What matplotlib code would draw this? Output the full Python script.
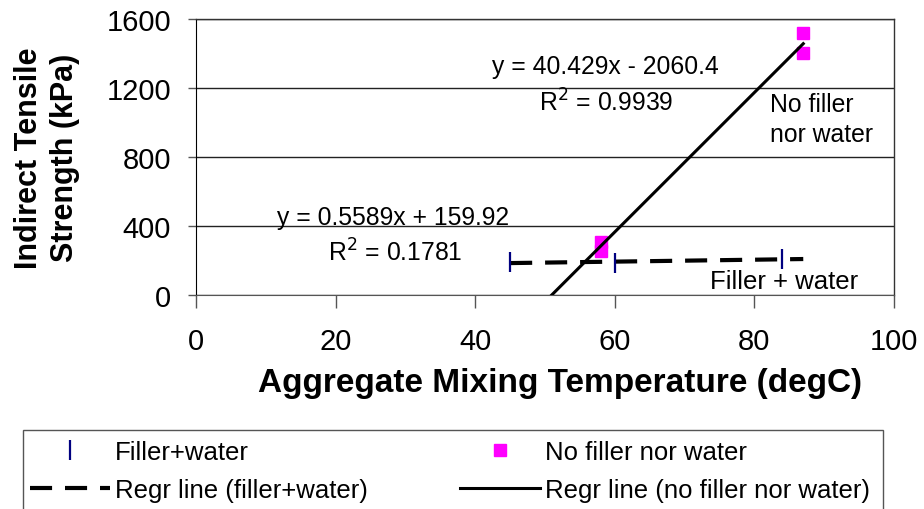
import matplotlib
matplotlib.use("Agg")
import matplotlib.pyplot as plt
from matplotlib.patches import Rectangle
import numpy as np

plt.rcParams['font.family'] = ['Liberation Sans', 'DejaVu Sans']

# Data
filler_x = [45, 60, 84]
filler_y = [190, 188, 209]
nofill_x = [58, 58, 87, 87]
nofill_y = [305, 255, 1519, 1402]
regr_x = [45, 87]
fill_coef = (0.5589, 159.92)
nofill_coef = (40.429, -2060.4)
xticks = [0, 20, 40, 60, 80, 100]
yticks = [0, 400, 800, 1200, 1600]

W, H = 924, 510
fig = plt.figure(figsize=(W / 100, H / 100), dpi=100)
ax = fig.add_axes([196 / W, 1 - 296 / H, (894 - 196) / W, (296 - 20) / H])

rx = np.array(regr_x, dtype=float)
l_fill, = ax.plot(rx, fill_coef[0] * rx + fill_coef[1], color='black', lw=3,
                  linestyle=(0, (5.3, 3.1)), label='Regr line (filler+water)', zorder=3)
l_nofill, = ax.plot(rx, nofill_coef[0] * rx + nofill_coef[1], color='black', lw=2.2,
                    label='Regr line (no filler nor water)', zorder=3)
m_fill, = ax.plot(filler_x, filler_y, linestyle='none', marker='|', markersize=14.5,
                  markeredgewidth=1.6, color='#000080', label='Filler+water', zorder=4)
m_nofill, = ax.plot(nofill_x, nofill_y, linestyle='none', marker='s', markersize=8.6,
                    color='#FF00FF', markeredgecolor='#FF00FF', label='No filler nor water', zorder=2)

ax.set_xlim(0, 100)
ax.set_ylim(0, 1600)
ax.set_xticks(xticks)
ax.set_yticks(yticks)
ax.tick_params(axis='both', labelsize=21, direction='out', color='#555555')
ax.tick_params(axis='x', length=9, width=1, pad=14)
ax.tick_params(axis='y', length=6, width=1, pad=12)
ax.yaxis.grid(True, color='#222222', linewidth=1)
ax.set_axisbelow(True)
for s in ['top', 'right']:
    ax.spines[s].set_color('#333333')
    ax.spines[s].set_linewidth(1)
ax.spines['left'].set_color('black')
ax.spines['bottom'].set_color('#555555')

ax.set_xlabel('Aggregate Mixing Temperature (degC)', fontsize=24, fontweight='bold', labelpad=9)
ax.xaxis.label.set_x((560 - 196) / 698)
fig.text(47 / W, 1 - 158 / H, 'Indirect Tensile\nStrength (kPa)', fontsize=22, fontweight='bold',
         rotation=90, ha='center', va='center', linespacing=1.3)

def px(x, y):
    return (x / W, 1 - y / H)

fs = 17.8
fig.text(*px(605, 67), 'y = 40.429x - 2060.4', fontsize=fs, ha='center', va='center')
fig.text(*px(606, 103), r'R$^2$ = 0.9939', fontsize=fs, ha='center', va='center')
fig.text(*px(393, 218), 'y = 0.5589x + 159.92', fontsize=fs, ha='center', va='center')
fig.text(*px(395, 253), r'R$^2$ = 0.1781', fontsize=fs, ha='center', va='center')
fig.text(*px(770, 120), 'No filler\nnor water', fontsize=fs, ha='left', va='center', linespacing=1.3)
fig.text(*px(784, 282), 'Filler + water', fontsize=18.5, ha='center', va='center')

# Legend frame
fig.add_artist(Rectangle((23 / W, -0.05), (883 - 23) / W, 0.05 + 1 - 431 / H,
                         transform=fig.transFigure, fill=False, edgecolor='#555555', lw=1))
leg = fig.legend(handles=[m_fill, l_fill, m_nofill, l_nofill], ncol=2, loc='upper left',
                 bbox_to_anchor=(30 / W, 1 - 441 / H), frameon=False, fontsize=18.5,
                 handlelength=3.1, handletextpad=0.2, columnspacing=3.6, labelspacing=0.55,
                 borderpad=0, borderaxespad=0, markerscale=1.0)

fig.savefig('out.png', dpi=100)
